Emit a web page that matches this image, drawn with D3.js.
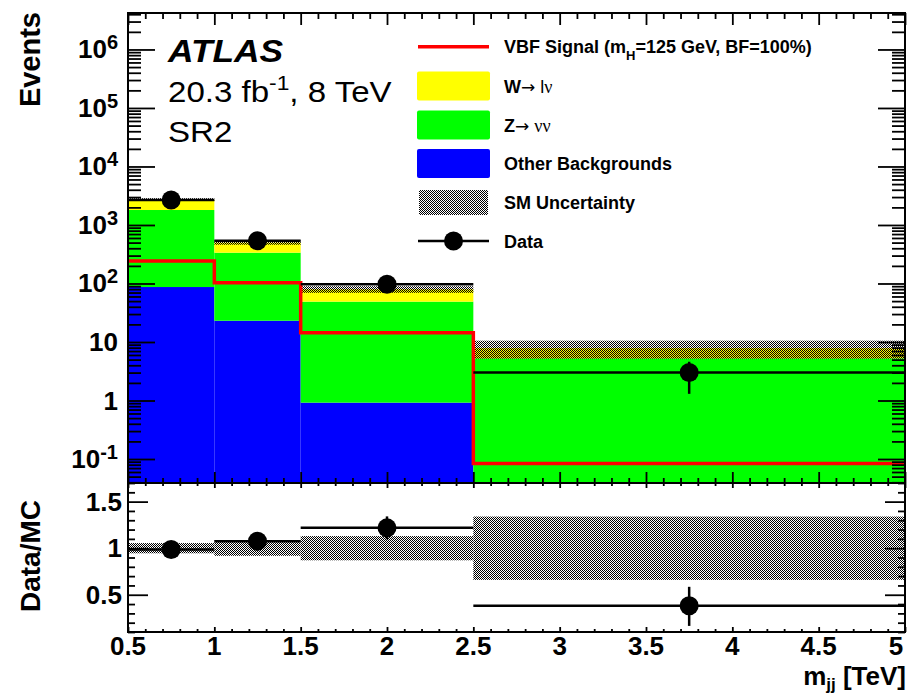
<!DOCTYPE html>
<html>
<head>
<meta charset="utf-8">
<script src="https://cdn.jsdelivr.net/npm/d3@7"></script>
<style>
  body { margin: 0; background: #fff; }
  svg { display: block; }
  text { font-family: "Liberation Sans", Arial, Helvetica, sans-serif; fill: #000; }
</style>
</head>
<body>
<svg id="chart" width="910" height="693"></svg>
<script>
// m_jj bins (TeV)
const binEdges = [0.5, 1.0, 1.5, 2.5, 5.0];
// stacked SM backgrounds (events per bin)
const otherBkg = [87, 23.1, 0.92, 0.04];
const zNuNu    = [1716, 313, 48, 5.22];
const wLNu     = [917, 165, 30.7, 2.6];
// relative SM uncertainty per bin
const smUncert = [0.055, 0.082, 0.13, 0.34];
// VBF signal, mH = 125 GeV, BF = 100%
const signal   = [243, 103, 14.4, 0.084];
// observed data with lower / upper errors
const dataCounts = [2680, 539, 97, 3];
const dataErrLo  = [52, 23, 9.8, 1.7];
const dataErrHi  = [52, 23, 9.8, 1.6];
// axis ticks
const xMajorTicks = [0.5, 1, 1.5, 2, 2.5, 3, 3.5, 4, 4.5, 5];
const xTickLabels = ["0.5", "1", "1.5", "2", "2.5", "3", "3.5", "4", "4.5", "5"];
const yExponents  = [-1, 0, 1, 2, 3, 4, 5, 6];
const ratioMajorTicks = [0.5, 1, 1.5];
const ratioTickLabels = ["0.5", "1", "1.5"];

const svg = d3.select("#chart");
const L = 128, R = 905, T = 13, MB = 483, RB = 632;

const x  = d3.scaleLinear().domain([0.5, 5]).range([L, R]);
const y  = d3.scaleLog().domain([0.0389, 4.2e6]).range([MB, T]);
const yr = d3.scaleLinear().domain([0.1, 1.7]).range([RB, MB]);

const rows = binEdges.slice(0, -1).map((lo, i) => ({
  lo, hi: binEdges[i + 1],
  other: otherBkg[i], z: zNuNu[i], w: wLNu[i],
  total: otherBkg[i] + zNuNu[i] + wLNu[i],
  unc: smUncert[i], sig: signal[i],
  data: dataCounts[i], elo: dataErrLo[i], ehi: dataErrHi[i]
}));

const defs = svg.append("defs");
const pat = defs.append("pattern").attr("id", "hatch")
  .attr("width", 2).attr("height", 2).attr("patternUnits", "userSpaceOnUse");
pat.append("rect").attr("x", 0).attr("y", 0).attr("width", 1).attr("height", 1).attr("fill", "#000");
pat.append("rect").attr("x", 1).attr("y", 1).attr("width", 1).attr("height", 1).attr("fill", "#000");
defs.append("clipPath").attr("id", "clipMain").append("rect")
  .attr("x", L).attr("y", T).attr("width", R - L).attr("height", MB - T);
defs.append("clipPath").attr("id", "clipRatio").append("rect")
  .attr("x", L).attr("y", MB).attr("width", R - L).attr("height", RB - MB);

// ---------- main panel ----------
const main = svg.append("g").attr("clip-path", "url(#clipMain)");
const layers = d3.stack().keys(["other", "z", "w"])(rows);
const colors = { other: "#0000ff", z: "#00ff00", w: "#ffff00" };
const yMin = y.domain()[0];
layers.forEach(layer => {
  main.append("g").selectAll("rect").data(layer).join("rect")
    .attr("x", d => x(d.data.lo))
    .attr("width", d => x(d.data.hi) - x(d.data.lo))
    .attr("y", d => y(d[1]))
    .attr("height", d => y(Math.max(d[0], yMin)) - y(d[1]))
    .attr("fill", colors[layer.key]);
});

// SM uncertainty band
main.append("g").selectAll("rect").data(rows).join("rect")
  .attr("x", d => x(d.lo))
  .attr("width", d => x(d.hi) - x(d.lo))
  .attr("y", d => y(d.total * (1 + d.unc)))
  .attr("height", d => y(d.total * (1 - d.unc)) - y(d.total * (1 + d.unc)))
  .attr("fill", "url(#hatch)");

// signal step line
const sigPts = rows.map(d => [d.lo, d.sig]).concat([[rows[rows.length - 1].hi, rows[rows.length - 1].sig]]);
main.append("path")
  .attr("d", d3.line().x(d => x(d[0])).y(d => y(d[1])).curve(d3.curveStepAfter)(sigPts))
  .attr("fill", "none").attr("stroke", "#ff0000").attr("stroke-width", 3.5);

// data
const dg = main.append("g");
dg.selectAll("line.h").data(rows).join("line").attr("class", "h")
  .attr("x1", d => x(d.lo)).attr("x2", d => x(d.hi))
  .attr("y1", d => y(d.data)).attr("y2", d => y(d.data))
  .attr("stroke", "#000").attr("stroke-width", 2.5);
dg.selectAll("line.v").data(rows).join("line").attr("class", "v")
  .attr("x1", d => x((d.lo + d.hi) / 2)).attr("x2", d => x((d.lo + d.hi) / 2))
  .attr("y1", d => y(d.data - d.elo)).attr("y2", d => y(d.data + d.ehi))
  .attr("stroke", "#000").attr("stroke-width", 2.5);
dg.selectAll("circle").data(rows).join("circle")
  .attr("cx", d => x((d.lo + d.hi) / 2)).attr("cy", d => y(d.data)).attr("r", 9.5)
  .attr("fill", "#000");

// ---------- ratio panel ----------
const ratio = svg.append("g").attr("clip-path", "url(#clipRatio)");
ratio.append("g").selectAll("rect").data(rows).join("rect")
  .attr("x", d => x(d.lo))
  .attr("width", d => x(d.hi) - x(d.lo))
  .attr("y", d => yr(1 + d.unc))
  .attr("height", d => yr(1 - d.unc) - yr(1 + d.unc))
  .attr("fill", "url(#hatch)");
ratio.selectAll("line.h").data(rows).join("line").attr("class", "h")
  .attr("x1", d => x(d.lo)).attr("x2", d => x(d.hi))
  .attr("y1", d => yr(d.data / d.total)).attr("y2", d => yr(d.data / d.total))
  .attr("stroke", "#000").attr("stroke-width", 2.5);
ratio.selectAll("line.v").data(rows).join("line").attr("class", "v")
  .attr("x1", d => x((d.lo + d.hi) / 2)).attr("x2", d => x((d.lo + d.hi) / 2))
  .attr("y1", d => yr((d.data - d.elo) / d.total)).attr("y2", d => yr((d.data + d.ehi) / d.total))
  .attr("stroke", "#000").attr("stroke-width", 2.5);
ratio.selectAll("circle").data(rows).join("circle")
  .attr("cx", d => x((d.lo + d.hi) / 2)).attr("cy", d => yr(d.data / d.total)).attr("r", 9.5)
  .attr("fill", "#000");

// ---------- axes ----------
function tickSet(axisFn, scale, values, size, tx, ty) {
  svg.append("g").attr("transform", `translate(${tx},${ty})`)
    .call(axisFn(scale).tickValues(values).tickSizeInner(size).tickSizeOuter(0).tickFormat(""))
    .call(g => g.select(".domain").remove())
    .call(g => g.selectAll("line").attr("stroke", "#000").attr("stroke-width", 1.8));
}
const xMinor = d3.range(5, 51).filter(i => i % 5 !== 0).map(i => i / 10);
const yMajor = yExponents.map(e => Math.pow(10, e));
const yMinor = [];
for (let e = -2; e <= 6; e++) for (let k = 2; k <= 9; k++) {
  const v = k * Math.pow(10, e);
  if (v > y.domain()[0] && v < y.domain()[1]) yMinor.push(v);
}
const rMinor = d3.range(1, 18).filter(i => i % 5 !== 0).map(i => i / 10);

// main panel ticks (all inward)
tickSet(d3.axisBottom, x, xMajorTicks, -11, 0, MB);
tickSet(d3.axisBottom, x, xMinor, -5, 0, MB);
tickSet(d3.axisTop, x, xMajorTicks, -12, 0, T);
tickSet(d3.axisTop, x, xMinor, -6, 0, T);
tickSet(d3.axisLeft, y, yMajor, -27, L, 0);
tickSet(d3.axisLeft, y, yMinor, -13, L, 0);
tickSet(d3.axisRight, y, yMajor, -27, R, 0);
tickSet(d3.axisRight, y, yMinor, -13, R, 0);
// ratio panel ticks
tickSet(d3.axisBottom, x, xMajorTicks, -5, 0, RB);
tickSet(d3.axisBottom, x, xMinor, -3, 0, RB);
tickSet(d3.axisTop, x, xMajorTicks, -5, 0, MB);
tickSet(d3.axisTop, x, xMinor, -3, 0, MB);
tickSet(d3.axisLeft, yr, ratioMajorTicks, -20, L, 0);
tickSet(d3.axisLeft, yr, rMinor, -7, L, 0);
tickSet(d3.axisRight, yr, ratioMajorTicks, -20, R, 0);
tickSet(d3.axisRight, yr, rMinor, -7, R, 0);

// frames
svg.append("rect").attr("x", L).attr("y", T).attr("width", R - L).attr("height", MB - T)
  .attr("fill", "none").attr("stroke", "#000").attr("stroke-width", 2);
svg.append("rect").attr("x", L).attr("y", MB).attr("width", R - L).attr("height", RB - MB)
  .attr("fill", "none").attr("stroke", "#000").attr("stroke-width", 2);

// main y tick labels
const yl = svg.append("g").attr("font-weight", "bold");
yExponents.forEach(e => {
  const t = yl.append("text").attr("x", 118).attr("y", y(Math.pow(10, e)) + 9)
    .attr("text-anchor", "end").attr("font-size", 26);
  if (e === 0) t.text("1");
  else if (e === 1) t.text("10");
  else {
    t.append("tspan").text("10");
    t.append("tspan").attr("dy", -9).attr("font-size", 20).text(String(e));
  }
});

// ratio y tick labels
svg.append("g").selectAll("text").data(ratioMajorTicks).join("text")
  .attr("x", 122).attr("y", d => yr(d) + 9)
  .attr("text-anchor", "end").attr("font-size", 26).attr("font-weight", "bold")
  .text((d, i) => ratioTickLabels[i]);

// x tick labels (the last one sits on the right border)
svg.append("g").selectAll("text").data(xMajorTicks).join("text")
  .attr("x", d => Math.min(x(d), 896)).attr("y", 655)
  .attr("text-anchor", "middle").attr("font-size", 26).attr("font-weight", "bold")
  .text((d, i) => xTickLabels[i]);

// axis titles
const xt = svg.append("text").attr("x", 906).attr("y", 685).attr("text-anchor", "end")
  .attr("font-size", 26).attr("font-weight", "bold");
xt.append("tspan").text("m");
xt.append("tspan").attr("font-size", 17).attr("dy", 5).text("jj");
xt.append("tspan").attr("dy", -5).text(" [TeV]");

svg.append("text").attr("transform", "translate(40,12) rotate(-90)")
  .attr("text-anchor", "end").attr("font-size", 29).attr("font-weight", "bold").text("Events");
svg.append("text").attr("transform", "translate(40,500) rotate(-90)")
  .attr("text-anchor", "end").attr("font-size", 28).attr("font-weight", "bold").text("Data/MC");

// ATLAS label block (slightly wide lettering)
const lab = svg.append("g").attr("transform", "translate(168,0) scale(1.14,1)");
lab.append("text").attr("x", 0).attr("y", 62).attr("font-size", 31)
  .attr("font-weight", "bold").attr("font-style", "italic").text("ATLAS");
const lumi = lab.append("text").attr("x", 0).attr("y", 102).attr("font-size", 29);
lumi.append("tspan").text("20.3 fb");
lumi.append("tspan").attr("dy", -12).attr("font-size", 20).text("-1");
lumi.append("tspan").attr("dy", 12).text(", 8 TeV");
lab.append("text").attr("x", 0).attr("y", 142).attr("font-size", 29).text("SR2");

// legend
const lg = svg.append("g").attr("font-weight", "bold").attr("font-size", 18);
const lx0 = 418, lx1 = 489, ltx = 504;
const rowsY = [46.7, 86, 125, 163.5, 202.5, 241];
lg.append("line").attr("x1", lx0).attr("x2", lx1).attr("y1", rowsY[0]).attr("y2", rowsY[0])
  .attr("stroke", "#ff0000").attr("stroke-width", 3.5);
const t0 = lg.append("text").attr("x", ltx).attr("y", rowsY[0] + 6.5);
t0.append("tspan").text("VBF Signal (m");
t0.append("tspan").attr("font-size", 13).attr("dy", 7).text("H");
t0.append("tspan").attr("dy", -7).text("=125 GeV, BF=100%)");
[["#ffff00", 1], ["#00ff00", 2], ["#0000ff", 3]].forEach(([c, i]) => {
  lg.append("rect").attr("x", lx0 - 1).attr("y", rowsY[i] - 14.5).attr("width", lx1 - lx0 + 2)
    .attr("height", 29).attr("rx", 2).attr("fill", c);
});
const arrowFont = "DejaVu Sans, sans-serif";
const t1 = lg.append("text").attr("x", ltx).attr("y", rowsY[1] + 6.5);
t1.append("tspan").text("W");
t1.append("tspan").attr("font-weight", "normal").attr("font-family", arrowFont).attr("font-size", 17).text("\u2192");
t1.append("tspan").attr("font-weight", "normal").text(" l");
t1.append("tspan").attr("font-weight", "normal").attr("font-family", "Liberation Serif, serif").text("\u03bd");
const t2 = lg.append("text").attr("x", ltx).attr("y", rowsY[2] + 6.5);
t2.append("tspan").text("Z");
t2.append("tspan").attr("font-weight", "normal").attr("font-family", arrowFont).attr("font-size", 17).text("\u2192");
t2.append("tspan").attr("font-weight", "normal").text("  ");
t2.append("tspan").attr("font-weight", "normal").attr("font-family", "Liberation Serif, serif").text("\u03bd\u03bd");
lg.append("text").attr("x", ltx).attr("y", rowsY[3] + 6.5).text("Other Backgrounds");
lg.append("rect").attr("x", lx0 + 1).attr("y", rowsY[4] - 12.5).attr("width", lx1 - lx0 - 2)
  .attr("height", 25).attr("fill", "url(#hatch)");
lg.append("text").attr("x", ltx).attr("y", rowsY[4] + 6.5).text("SM Uncertainty");
lg.append("line").attr("x1", lx0).attr("x2", lx1).attr("y1", rowsY[5]).attr("y2", rowsY[5])
  .attr("stroke", "#000").attr("stroke-width", 2.5);
lg.append("circle").attr("cx", (lx0 + lx1) / 2).attr("cy", rowsY[5]).attr("r", 9.5).attr("fill", "#000");
lg.append("text").attr("x", ltx).attr("y", rowsY[5] + 6.5).text("Data");
</script>
</body>
</html>
